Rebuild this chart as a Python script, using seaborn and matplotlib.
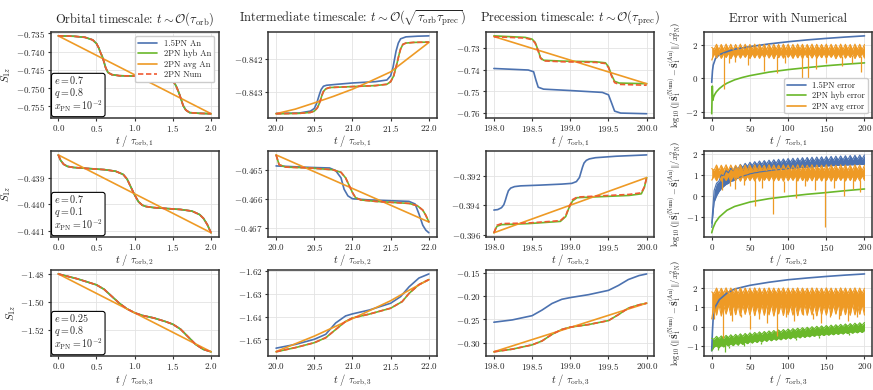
import matplotlib as mpl
mpl.use('agg')
import matplotlib.pyplot as plt
from matplotlib.lines import Line2D
import numpy as np
import seaborn as sns

# ---------------- data ----------------
# orbital timescale, rows 1-3 (1.5PN, hyb and Num coincide)
orb1_t = [0.0, 0.2, 0.35, 0.45, 0.5, 0.53, 0.555, 0.575, 0.595, 0.62, 0.65, 0.7, 0.8, 1.0,
          1.2, 1.35, 1.45, 1.5, 1.54, 1.57, 1.59, 1.61, 1.635, 1.67, 1.72, 1.85, 2.0]
orb1_num = [-0.7357, -0.7358, -0.7361, -0.7368, -0.7378, -0.7390, -0.7404, -0.7413, -0.7426,
            -0.7444, -0.7457, -0.7463, -0.7466, -0.7467, -0.7468, -0.7471, -0.7477, -0.7480,
            -0.7493, -0.7508, -0.7519, -0.7532, -0.7548, -0.7560, -0.7567, -0.7569, -0.7570]
orb1_avg = [-0.7357, -0.7570]

orb2_t = [0.0, 0.03, 0.07, 0.12, 0.2, 0.4, 0.6, 0.75, 0.85, 0.9, 0.95, 1.0, 1.05, 1.1, 1.15,
          1.25, 1.4, 1.6, 1.75, 1.85, 1.9, 1.95, 2.0]
orb2_num = [-0.43815, -0.43835, -0.43850, -0.43858, -0.43862, -0.43866, -0.43870, -0.43876,
            -0.43888, -0.43905, -0.43935, -0.43965, -0.43990, -0.44003, -0.44008, -0.44012,
            -0.44015, -0.44019, -0.44025, -0.44038, -0.44052, -0.44075, -0.44106]
orb2_avg = [-0.43815, -0.44106]

orb3_t = [0.0, 0.25, 0.5, 0.6, 0.7, 0.8, 0.9, 1.0, 1.1, 1.25, 1.4, 1.5, 1.6, 1.7, 1.8, 1.9, 2.0]
orb3_num = [-1.4800, -1.4835, -1.4878, -1.4910, -1.4960, -1.5010, -1.5050, -1.5078, -1.5097,
            -1.5115, -1.5140, -1.5160, -1.5195, -1.5250, -1.5305, -1.5340, -1.5357]
orb3_avg = [-1.4800, -1.5357]
orb_avg_t = [0.0, 2.0]

# intermediate timescale
int1_t = [20.0, 20.3, 20.45, 20.5, 20.54, 20.56, 20.58, 20.6, 20.62, 20.65, 20.7, 20.8, 21.0,
          21.3, 21.45, 21.5, 21.54, 21.56, 21.585, 21.61, 21.63, 21.66, 21.7, 21.8, 22.0]
int1_num = [-0.84366, -0.84365, -0.84362, -0.84358, -0.84348, -0.84338, -0.84325, -0.84310,
            -0.84298, -0.84290, -0.84286, -0.84285, -0.84283, -0.84280, -0.84276, -0.84268,
            -0.84250, -0.84232, -0.84210, -0.84185, -0.84168, -0.84154, -0.84150, -0.84148,
            -0.84147]
int1_pn15_t = [20.0, 20.3, 20.45, 20.5, 20.53, 20.55, 20.57, 20.59, 20.62, 20.66, 20.8, 21.0,
               21.3, 21.45, 21.5, 21.53, 21.55, 21.57, 21.6, 21.63, 21.7, 21.85, 22.0]
int1_pn15 = [-0.84365, -0.84364, -0.84358, -0.84350, -0.84335, -0.84320, -0.84305, -0.84292,
             -0.84282, -0.84279, -0.84276, -0.84272, -0.84268, -0.84263, -0.84250, -0.84225,
             -0.84200, -0.84175, -0.84150, -0.84137, -0.84131, -0.84129, -0.84128]
int1_avg_t = [20.0, 20.25, 20.5, 20.75, 21.0, 21.25, 21.5, 21.75, 22.0]
int1_avg = [-0.84366, -0.84352, -0.84333, -0.84313, -0.84291, -0.84265, -0.84238, -0.84193, -0.84148]

int2_t = [20.0, 20.04, 20.13, 20.44, 20.74, 20.85, 20.91, 20.96, 21.0, 21.04, 21.11, 21.3,
          21.74, 21.85, 21.92, 21.96, 22.0]
int2_num = [-0.46449, -0.46483, -0.46491, -0.46494, -0.46500, -0.46509, -0.46528, -0.46556,
            -0.46579, -0.46596, -0.46604, -0.46609, -0.46616, -0.46624, -0.46639, -0.46657,
            -0.46680]
int2_pn15_t = [20.0, 20.44, 20.7, 20.78, 20.85, 20.89, 20.94, 21.0, 21.22, 21.74, 21.82, 21.87,
               21.92, 21.96, 22.0]
int2_pn15 = [-0.46487, -0.46492, -0.46494, -0.46503, -0.46528, -0.46567, -0.46590, -0.46600,
             -0.46604, -0.46609, -0.46618, -0.46652, -0.46691, -0.46708, -0.46717]
int2_avg_t = [20.0, 22.0]
int2_avg = [-0.46449, -0.46680]

int3_t = [20.0, 20.26, 20.5, 20.65, 20.78, 20.91, 21.0, 21.22, 21.5, 21.65, 21.74, 21.87, 22.0]
int3_num = [-1.6555, -1.6536, -1.6515, -1.6493, -1.6457, -1.6421, -1.6406, -1.6389, -1.6363,
            -1.6334, -1.6298, -1.6259, -1.6237]
int3_pn15_t = [20.0, 20.26, 20.5, 20.65, 20.78, 20.91, 21.0, 21.22, 21.5, 21.63, 21.74, 21.87, 22.0]
int3_pn15 = [-1.6539, -1.6522, -1.6500, -1.6478, -1.6428, -1.6397, -1.6388, -1.6371, -1.6341,
             -1.6312, -1.6269, -1.6230, -1.6212]
int3_avg_t = [20.0, 20.5, 21.0, 21.5, 21.74, 22.0]
int3_avg = [-1.6554, -1.6486, -1.6409, -1.6330, -1.6284, -1.6237]

# precession timescale
prec1_t = [198.0, 198.41, 198.5, 198.54, 198.58, 198.61, 198.65, 198.89, 199.33, 199.46, 199.5,
           199.54, 199.58, 199.64, 200.0]
prec1_hyb = [-0.7245, -0.7252, -0.7260, -0.7275, -0.7312, -0.7345, -0.7357, -0.7361, -0.7364,
             -0.7369, -0.7387, -0.7425, -0.7454, -0.7462, -0.7465]
prec1_num = [-0.7249, -0.7255, -0.7263, -0.7278, -0.7315, -0.7348, -0.7360, -0.7364, -0.7367,
             -0.7372, -0.7391, -0.7430, -0.7460, -0.7468, -0.7472]
prec1_pn15_t = [198.0, 198.45, 198.52, 198.55, 198.58, 198.65, 198.98, 199.42, 199.5, 199.54,
                199.58, 199.66, 200.0]
prec1_pn15 = [-0.7395, -0.7402, -0.7410, -0.7448, -0.7481, -0.7490, -0.7496, -0.7505, -0.7516,
              -0.7553, -0.7591, -0.7600, -0.7603]
prec1_avg = [-0.7248, -0.7465]

prec2_t = [198.0, 198.04, 198.1, 198.45, 198.87, 198.94, 198.98, 199.03, 199.09, 199.77, 199.93,
           199.97, 200.0]
prec2_hyb = [-0.39585, -0.39541, -0.39530, -0.39523, -0.39508, -0.39475, -0.39420, -0.39369,
             -0.39347, -0.39332, -0.39321, -0.39277, -0.39211]
prec2_num = [-0.39585, -0.39534, -0.39523, -0.39519, -0.39503, -0.39470, -0.39415, -0.39360,
             -0.39343, -0.39325, -0.39314, -0.39273, -0.39211]
prec2_pn15_t = [198.0, 198.05, 198.1, 198.13, 198.15, 198.17, 198.19, 198.22, 198.27, 198.35,
                198.6, 198.89, 199.02, 199.08, 199.12, 199.14, 199.16, 199.18, 199.21, 199.25,
                199.33, 199.6, 200.0]
prec2_pn15 = [-0.39431, -0.39428, -0.39415, -0.39395, -0.39365, -0.39330, -0.39300, -0.39282,
              -0.39272, -0.39267, -0.39262, -0.39255, -0.39250, -0.39238, -0.39210, -0.39175,
              -0.39140, -0.39112, -0.39094, -0.39084, -0.39076, -0.39066, -0.39057]
prec2_avg = [-0.39585, -0.39211]

prec3_t = [198.0, 198.24, 198.5, 198.63, 198.76, 198.89, 199.0, 199.24, 199.5, 199.63, 199.76,
           199.9, 200.0]
prec3_num = [-0.3197, -0.3141, -0.3049, -0.2965, -0.2824, -0.2718, -0.2669, -0.2613, -0.2528,
             -0.2401, -0.2261, -0.2190, -0.2155]
prec3_pn15 = [-0.2563, -0.2514, -0.2423, -0.2303, -0.2162, -0.2071, -0.2035, -0.1972, -0.1880,
              -0.1775, -0.1648, -0.1563, -0.1528]
prec3_avg = [-0.3197, -0.2155]
prec_avg_t = [198.0, 200.0]

# error with numerical
err_t = [0, 3.1, 6.3, 9.4, 12.5, 15.6, 18.8, 21.9,
         25, 28.1, 31.3, 34.4, 37.5, 40.6, 43.8, 46.9,
         50, 53.1, 56.3, 59.4, 62.5, 65.6, 68.8, 71.9,
         75, 78.1, 81.3, 84.4, 87.5, 90.6, 93.8, 96.9,
         100, 103.1, 106.3, 109.4, 112.5, 115.6, 118.8, 121.9,
         125, 128.1, 131.3, 134.4, 137.5, 140.6, 143.8, 146.9,
         150, 153.1, 156.3, 159.4, 162.5, 165.6, 168.8, 171.9,
         175, 178.1, 181.3, 184.4, 187.5, 190.6, 193.8, 196.9,
         200]
smooth_t = [0, 1, 2, 5, 10, 20, 30, 50, 75, 100, 125, 150, 175, 200]

pn15_err1 = [-0.23, 0.45, 0.8, 1.2, 1.42, 1.6, 1.75, 1.9, 2.06, 2.19, 2.3, 2.39, 2.47, 2.54]
hyb_err1_t = [0, 0.8, 1.5, 2.5, 4, 6, 10, 15, 20, 30, 40, 50, 75, 100, 125, 150, 175, 200]
hyb_err1 = [-2.1, -0.45, -1.3, -1.1, -0.95, -0.8, -0.6, -0.42, -0.28, -0.08, 0.06, 0.17, 0.38,
            0.53, 0.65, 0.76, 0.85, 0.93]
avg1_hi = [1.85, 1.75, 2.04, 1.70, 2.03, 1.72, 2.05, 1.74,
           2.04, 1.70, 2.03, 1.73, 2.05, 1.71, 2.04, 1.72,
           2.03, 1.74, 2.05, 1.70, 2.04, 1.73, 2.03, 1.71,
           2.05, 1.72, 2.04, 1.74, 2.03, 1.70, 2.05, 1.73,
           2.04, 1.71, 2.03, 1.72, 2.05, 1.74, 2.04, 1.70,
           2.03, 1.73, 2.05, 1.71, 2.04, 1.72, 2.03, 1.74,
           2.05, 1.70, 2.04, 1.73, 2.03, 1.71, 2.05, 1.72,
           2.04, 1.74, 2.03, 1.70, 2.05, 1.73, 2.04, 1.71,
           2.03]
avg1_lo = [1.10, 1.48, 1.22, 1.50, 1.20, 1.48, 1.25, 1.52,
           1.18, 1.47, 1.24, 1.50, 1.21, 1.49, 1.26, 1.51,
           1.19, 1.48, 1.23, 1.50, 1.20, 1.47, 1.25, 1.52,
           1.22, 1.49, 1.18, 1.50, 1.24, 1.48, 1.21, 1.51,
           1.26, 1.47, 1.20, 1.50, 1.23, 1.49, 1.19, 1.52,
           1.25, 1.48, 1.22, 1.50, 1.21, 1.47, 1.24, 1.51,
           1.20, 1.49, 1.26, 1.50, 1.18, 1.48, 1.23, 1.52,
           1.21, 1.47, 1.25, 1.50, 1.19, 1.49, 1.24, 1.51,
           1.22]
avg1_dip_t = [16, 22, 30, 47, 68, 86, 96, 118, 126, 137, 150, 170, 183, 195]
avg1_dip = [-0.6, 0.9, 1.0, 0.8, 0.45, 0.35, 0.9, -0.05, 0.0, 0.55, 0.9, 0.75, 0.9, 0.4]

pn15_err2_hi = [-1.30, 0.25, 0.60, 0.70, 1.00, 0.95, 1.20, 1.10,
                1.32, 1.20, 1.42, 1.28, 1.50, 1.35, 1.55, 1.40,
                1.60, 1.45, 1.63, 1.48, 1.66, 1.50, 1.68, 1.52,
                1.70, 1.54, 1.72, 1.55, 1.74, 1.57, 1.76, 1.58,
                1.78, 1.60, 1.79, 1.61, 1.80, 1.62, 1.82, 1.63,
                1.83, 1.64, 1.84, 1.65, 1.85, 1.66, 1.86, 1.67,
                1.87, 1.68, 1.88, 1.69, 1.89, 1.70, 1.90, 1.71,
                1.91, 1.72, 1.92, 1.73, 1.93, 1.74, 1.94, 1.75,
                1.95]
pn15_err2_lo = [-1.50, -0.30, 0.00, 0.20, 0.35, 0.45, 0.55, 0.60,
                0.70, 0.72, 0.80, 0.85, 0.90, 0.92, 0.98, 1.00,
                1.05, 1.07, 1.10, 1.11, 1.14, 1.15, 1.17, 1.18,
                1.20, 1.21, 1.23, 1.24, 1.25, 1.26, 1.27, 1.28,
                1.30, 1.31, 1.32, 1.33, 1.34, 1.35, 1.36, 1.36,
                1.37, 1.38, 1.38, 1.39, 1.40, 1.40, 1.41, 1.42,
                1.42, 1.43, 1.44, 1.44, 1.45, 1.45, 1.46, 1.46,
                1.47, 1.47, 1.48, 1.48, 1.49, 1.49, 1.50, 1.50,
                1.50]
hyb_err2 = [-1.75, -1.62, -1.5, -1.25, -1.0, -0.68, -0.5, -0.29, -0.13, -0.02, 0.08, 0.16, 0.25, 0.33]
avg2_hi = [1.30, 1.22, 1.47, 1.20, 1.46, 1.23, 1.48, 1.21,
           1.47, 1.22, 1.46, 1.24, 1.48, 1.20, 1.47, 1.23,
           1.46, 1.21, 1.48, 1.22, 1.47, 1.24, 1.46, 1.20,
           1.48, 1.23, 1.47, 1.21, 1.46, 1.22, 1.48, 1.24,
           1.47, 1.20, 1.46, 1.23, 1.48, 1.21, 1.47, 1.22,
           1.46, 1.24, 1.48, 1.20, 1.47, 1.23, 1.46, 1.21,
           1.48, 1.22, 1.47, 1.24, 1.46, 1.20, 1.48, 1.23,
           1.47, 1.21, 1.46, 1.22, 1.48, 1.24, 1.47, 1.20,
           1.46]
avg2_lo = [0.75, 0.95, 0.72, 0.97, 0.70, 0.94, 0.73, 0.96,
           0.71, 0.95, 0.74, 0.93, 0.70, 0.96, 0.72, 0.95,
           0.73, 0.94, 0.71, 0.97, 0.70, 0.95, 0.74, 0.93,
           0.72, 0.96, 0.71, 0.94, 0.73, 0.95, 0.70, 0.97,
           0.72, 0.94, 0.74, 0.95, 0.71, 0.96, 0.73, 0.93,
           0.70, 0.95, 0.72, 0.97, 0.74, 0.94, 0.71, 0.95,
           0.73, 0.96, 0.70, 0.94, 0.72, 0.95, 0.74, 0.93,
           0.71, 0.96, 0.73, 0.95, 0.70, 0.94, 0.72, 0.97,
           0.74]
avg2_dip_t = [14, 24, 30, 42, 57, 66, 80, 94, 110, 122, 135, 148, 160, 173, 185, 194]
avg2_dip = [0.27, 0.45, 0.35, 0.5, -0.5, 0.4, -0.88, 0.2, -0.1, 0.45, 0.3, -1.5, 0.4, 0.0, 0.35, 0.2]

pn15_err3 = [-1.25, -0.2, 0.46, 1.05, 1.4, 1.74, 1.95, 2.14, 2.3, 2.43, 2.52, 2.6, 2.67, 2.73]
hyb3_hi = [-0.60, -0.65, -0.50, -0.62, -0.48, -0.60, -0.45, -0.57,
           -0.42, -0.55, -0.40, -0.52, -0.37, -0.50, -0.35, -0.47,
           -0.32, -0.44, -0.30, -0.41, -0.27, -0.39, -0.25, -0.36,
           -0.22, -0.34, -0.20, -0.31, -0.17, -0.29, -0.15, -0.26,
           -0.12, -0.24, -0.10, -0.21, -0.08, -0.19, -0.05, -0.17,
           -0.03, -0.14, 0.00, -0.12, 0.02, -0.10, 0.04, -0.08,
           0.06, -0.06, 0.08, -0.04, 0.10, -0.02, 0.12, 0.00,
           0.14, 0.02, 0.16, 0.04, 0.18, 0.06, 0.20, 0.08,
           0.22]
hyb3_lo = [-1.25, -1.05, -1.00, -1.10, -0.95, -1.05, -0.92, -1.00,
           -0.88, -0.98, -0.85, -0.95, -0.82, -0.92, -0.80, -0.88,
           -0.76, -0.85, -0.73, -0.82, -0.70, -0.79, -0.67, -0.76,
           -0.64, -0.73, -0.62, -0.70, -0.60, -0.68, -0.57, -0.65,
           -0.55, -0.63, -0.52, -0.60, -0.50, -0.58, -0.47, -0.56,
           -0.45, -0.53, -0.43, -0.50, -0.41, -0.48, -0.39, -0.46,
           -0.37, -0.44, -0.35, -0.42, -0.33, -0.40, -0.31, -0.38,
           -0.29, -0.36, -0.27, -0.34, -0.25, -0.32, -0.23, -0.30,
           -0.20]
hyb3_dip_t = [8, 12, 18, 22, 28, 35, 42, 55, 65, 80, 95, 110, 125, 140, 160, 180]
hyb3_dip = [-1.2, -1.0, -1.3, -1.1, -1.0, -0.9, -1.0, -0.8, -0.9, -0.7, -0.6, -0.7, -0.5, -0.6, -0.4, -0.45]
avg3_hi = [1.80, 1.72, 2.00, 1.70, 1.99, 1.73, 2.01, 1.71,
           2.00, 1.74, 1.99, 1.70, 2.01, 1.72, 2.00, 1.73,
           1.99, 1.71, 2.01, 1.74, 2.00, 1.70, 1.99, 1.72,
           2.01, 1.73, 2.00, 1.71, 1.99, 1.74, 2.01, 1.70,
           2.00, 1.72, 1.99, 1.73, 2.01, 1.71, 2.00, 1.74,
           1.99, 1.70, 2.01, 1.72, 2.00, 1.73, 1.99, 1.71,
           2.01, 1.74, 2.00, 1.70, 1.99, 1.72, 2.01, 1.73,
           2.00, 1.71, 1.99, 1.74, 2.01, 1.70, 2.00, 1.72,
           1.99]
avg3_lo = [0.40, 1.15, 0.60, 1.18, 0.55, 1.12, 0.65, 1.16,
           0.58, 1.14, 0.62, 1.17, 0.56, 1.13, 0.64, 1.15,
           0.60, 1.18, 0.57, 1.12, 0.63, 1.16, 0.59, 1.14,
           0.61, 1.17, 0.55, 1.13, 0.66, 1.15, 0.58, 1.18,
           0.62, 1.12, 0.60, 1.16, 0.57, 1.14, 0.64, 1.17,
           0.59, 1.13, 0.61, 1.15, 0.56, 1.18, 0.63, 1.12,
           0.60, 1.16, 0.58, 1.14, 0.65, 1.17, 0.57, 1.13,
           0.62, 1.15, 0.59, 1.18, 0.61, 1.12, 0.64, 1.16,
           0.60]
avg3_dip_t = [3, 15, 27, 38, 50, 62, 73, 85, 97, 108, 120, 132, 143, 155, 167, 178, 190]
avg3_dip = [0.4, -0.6, 0.3, 0.5, -0.1, 0.4, 0.2, -0.5, 0.5, 0.3, 0.6, 0.4, 0.2, 0.5, 0.4, 0.3, 0.5]

# ticks and labels
orb_xticks = [0.0, 0.5, 1.0, 1.5, 2.0]
int_xticks = [20.0, 20.5, 21.0, 21.5, 22.0]
prec_xticks = [198.0, 198.5, 199.0, 199.5, 200.0]
err_xticks = [0, 50, 100, 150, 200]
yticks = [
    [[-0.735, -0.740, -0.745, -0.750, -0.755], [-0.842, -0.843], [-0.73, -0.74, -0.75, -0.76], [-2, 0, 2]],
    [[-0.439, -0.440, -0.441], [-0.465, -0.466, -0.467], [-0.392, -0.394, -0.396], [-1, 0, 1, 2]],
    [[-1.48, -1.50, -1.52], [-1.62, -1.63, -1.64, -1.65], [-0.15, -0.20, -0.25, -0.30], [-1, 0, 1, 2]],
]
ecc_vals = ['0.7', '0.7', '0.25']
q_vals = ['0.8', '0.1', '0.8']
titles = [r'Orbital timescale: $t \sim \mathcal{O}(\tau_{\mathrm{orb}})$',
          r'Intermediate timescale: $t \sim \mathcal{O}(\sqrt{\tau_{\mathrm{orb}}\tau_{\mathrm{prec}}})$',
          r'Precession timescale: $t \sim \mathcal{O}(\tau_{\mathrm{prec}})$',
          'Error with Numerical']
err_ylabel = (r'$\log_{10}\left(\Vert\hat{\mathbf{S}}_1^{(\mathrm{Num})}'
              r'-\hat{\mathbf{S}}_1^{(\mathrm{An})}\Vert/x_{\mathrm{PN}}^2\right)$')

# ---------------- style ----------------
sns.set_theme(style='whitegrid', rc={
    'axes.edgecolor': '#333333', 'axes.linewidth': 1.1,
    'grid.color': '#e3e3e3', 'grid.linewidth': 0.6,
    'xtick.bottom': True, 'ytick.left': True,
})
plt.rcParams.update({
    'font.family': 'serif', 'font.serif': ['cmr10'],
    'mathtext.fontset': 'cm',
    'axes.formatter.use_mathtext': True,
    'axes.formatter.useoffset': False,
})

C_BLUE = '#4c72b0'
C_GREEN = '#6ab82a'
C_ORANGE = '#ee9a25'
C_RED = '#f05a32'
LW = 1.2

fig, axes = plt.subplots(3, 4, figsize=(8.73, 3.9), dpi=100)
fig.subplots_adjust(left=0.058, right=0.999, bottom=0.088, top=0.918, wspace=0.296, hspace=0.39)


def curves(ax, t15, y15, th, yh, ta, ya, tn, yn):
    sns.lineplot(x=t15, y=y15, ax=ax, color=C_BLUE, lw=LW, legend=False)
    sns.lineplot(x=th, y=yh, ax=ax, color=C_GREEN, lw=LW, legend=False)
    sns.lineplot(x=ta, y=ya, ax=ax, color=C_ORANGE, lw=LW, legend=False)
    sns.lineplot(x=tn, y=yn, ax=ax, color=C_RED, lw=LW, legend=False, linestyle='--')
    ax.lines[-1].set_dashes([3.2, 1.6])


def band(ax, t, lo, hi, color):
    ax.fill_between(t, lo, hi, color=color, lw=0)
    sns.lineplot(x=t, y=hi, ax=ax, color=color, lw=0.8, legend=False)
    sns.lineplot(x=t, y=lo, ax=ax, color=color, lw=0.8, legend=False)


def dips(ax, t, lo, dt, dy, color):
    ax.vlines(dt, dy, np.interp(dt, t, lo), color=color, lw=0.9)


# orbital column
curves(axes[0, 0], orb1_t, orb1_num, orb1_t, orb1_num, orb_avg_t, orb1_avg, orb1_t, orb1_num)
curves(axes[1, 0], orb2_t, orb2_num, orb2_t, orb2_num, orb_avg_t, orb2_avg, orb2_t, orb2_num)
curves(axes[2, 0], orb3_t, orb3_num, orb3_t, orb3_num, orb_avg_t, orb3_avg, orb3_t, orb3_num)
# intermediate column
curves(axes[0, 1], int1_pn15_t, int1_pn15, int1_t, int1_num, int1_avg_t, int1_avg, int1_t, int1_num)
curves(axes[1, 1], int2_pn15_t, int2_pn15, int2_t, int2_num, int2_avg_t, int2_avg, int2_t, int2_num)
curves(axes[2, 1], int3_pn15_t, int3_pn15, int3_t, int3_num, int3_avg_t, int3_avg, int3_t, int3_num)
# precession column
curves(axes[0, 2], prec1_pn15_t, prec1_pn15, prec1_t, prec1_hyb, prec_avg_t, prec1_avg, prec1_t, prec1_num)
curves(axes[1, 2], prec2_pn15_t, prec2_pn15, prec2_t, prec2_hyb, prec_avg_t, prec2_avg, prec2_t, prec2_num)
curves(axes[2, 2], prec3_t, prec3_pn15, prec3_t, prec3_num, prec_avg_t, prec3_avg, prec3_t, prec3_num)

# error column
ax = axes[0, 3]
sns.lineplot(x=smooth_t, y=pn15_err1, ax=ax, color=C_BLUE, lw=LW, legend=False)
sns.lineplot(x=hyb_err1_t, y=hyb_err1, ax=ax, color=C_GREEN, lw=LW, legend=False)
band(ax, err_t, avg1_lo, avg1_hi, C_ORANGE)
dips(ax, err_t, avg1_lo, avg1_dip_t, avg1_dip, C_ORANGE)

ax = axes[1, 3]
band(ax, err_t, pn15_err2_lo, pn15_err2_hi, C_BLUE)
sns.lineplot(x=smooth_t, y=hyb_err2, ax=ax, color=C_GREEN, lw=LW, legend=False)
band(ax, err_t, avg2_lo, avg2_hi, C_ORANGE)
dips(ax, err_t, avg2_lo, avg2_dip_t, avg2_dip, C_ORANGE)

ax = axes[2, 3]
sns.lineplot(x=smooth_t, y=pn15_err3, ax=ax, color=C_BLUE, lw=LW, legend=False)
band(ax, err_t, hyb3_lo, hyb3_hi, C_GREEN)
dips(ax, err_t, hyb3_lo, hyb3_dip_t, hyb3_dip, C_GREEN)
band(ax, err_t, avg3_lo, avg3_hi, C_ORANGE)
dips(ax, err_t, avg3_lo, avg3_dip_t, avg3_dip, C_ORANGE)

# axes cosmetics
xticks = [orb_xticks, int_xticks, prec_xticks, err_xticks]
for i in range(3):
    for j in range(4):
        ax = axes[i, j]
        ax.set_xticks(xticks[j])
        ax.set_yticks(yticks[i][j])
        ax.tick_params(labelsize=6.5, length=2.5, width=0.8, pad=1.5, color='#333333')
        ax.grid(True, color='#e3e3e3', lw=0.6)
        sub = r'_{\mathrm{orb},%d}' % (i + 1)
        ax.set_xlabel(r'$t\ /\ \tau%s$' % sub, fontsize=7.5, labelpad=0)
        ax.set_ylabel('')
        for s in ax.spines.values():
            s.set_color('#333333')
            s.set_linewidth(1.1)
    axes[i, 0].set_ylabel(r'$S_{1z}$', fontsize=8, labelpad=2)
    axes[i, 3].set_ylabel(err_ylabel, fontsize=6.2, labelpad=2)
    axes[i, 0].text(0.02, 0.04,
                    '$e = %s$\n$q = %s$\n$x_{\\mathrm{PN}} = 10^{-2}$' % (ecc_vals[i], q_vals[i]),
                    transform=axes[i, 0].transAxes, fontsize=7.2, ha='left', va='bottom',
                    linespacing=0.95,
                    bbox=dict(boxstyle='round,pad=0.25', fc='white', ec='black', lw=0.8))

for j in range(4):
    axes[0, j].set_title(titles[j], fontsize=9, pad=7)

handles = [Line2D([], [], color=C_BLUE, lw=LW), Line2D([], [], color=C_GREEN, lw=LW),
           Line2D([], [], color=C_ORANGE, lw=LW), Line2D([], [], color=C_RED, lw=LW, dashes=[3.2, 1.6])]
leg = axes[0, 0].legend(handles, ['1.5PN An', '2PN hyb An', '2PN avg An', '2PN Num'],
                        loc='upper right', fontsize=6.2, labelspacing=0.25, handlelength=2.2,
                        borderpad=0.35, framealpha=1)
leg.get_frame().set_edgecolor('#cccccc')
leg = axes[0, 3].legend(handles[:3], ['1.5PN error', '2PN hyb error', '2PN avg error'],
                        loc='lower right', fontsize=6, labelspacing=0.25, handlelength=2.2,
                        borderpad=0.35, framealpha=1)
leg.get_frame().set_edgecolor('#cccccc')

plt.savefig('out.png', dpi=100)
